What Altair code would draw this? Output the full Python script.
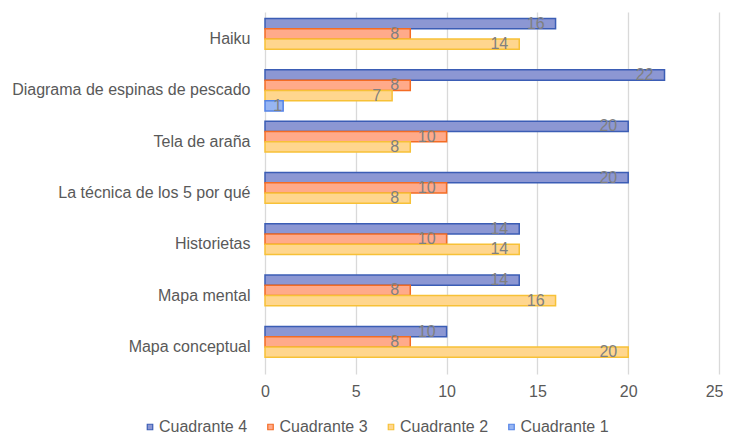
import altair as alt
import pandas as pd

categorias = ["Haiku", "Diagrama de espinas de pescado", "Tela de araña",
              "La técnica de los 5 por qué", "Historietas", "Mapa mental",
              "Mapa conceptual"]
series = ["Cuadrante 4", "Cuadrante 3", "Cuadrante 2", "Cuadrante 1"]
cuadrante_4 = [16, 22, 20, 20, 14, 14, 10]
cuadrante_3 = [8, 8, 10, 10, 10, 8, 8]
cuadrante_2 = [14, 7, 8, 8, 14, 16, 20]
cuadrante_1 = [0, 1, 0, 0, 0, 0, 0]
x_ticks = [0, 5, 10, 15, 20, 25]

fill_colors = ["#8C97D3", "#FFAA8A", "#FFD68E", "#97B5F2"]
stroke_colors = ["#3B5DB5", "#F46C24", "#F7C137", "#5383E6"]

rows = []
for s, vals in zip(series, [cuadrante_4, cuadrante_3, cuadrante_2, cuadrante_1]):
    for c, v in zip(categorias, vals):
        if v > 0:
            rows.append(dict(categoria=c, serie=s, valor=v))
df = pd.DataFrame(rows)

FONT = "Liberation Sans"

y = alt.Y("categoria:N", sort=categorias,
          scale=alt.Scale(domain=categorias, paddingInner=0.2, paddingOuter=0.128),
          axis=alt.Axis(title=None, ticks=False, domain=False, labelPadding=15,
                        labelFontSize=16, labelColor="#595959", labelFont=FONT,
                        labelLimit=400))
yoff = alt.YOffset("serie:N", sort=series,
                   scale=alt.Scale(domain=series, paddingInner=0, paddingOuter=0))
x = alt.X("valor:Q", scale=alt.Scale(domain=[0, 25], nice=False),
          axis=alt.Axis(values=x_ticks, title=None, ticks=False, domain=False,
                        grid=True, gridColor="#d9d9d9", gridWidth=1.3,
                        labelFontSize=16, labelColor="#595959", labelFont=FONT,
                        labelPadding=9,
                        labelAlign=alt.condition("datum.value == 25",
                                                 alt.value("right"),
                                                 alt.value("center")),
                        labelOffset=alt.condition("datum.value == 25",
                                                  alt.value(4),
                                                  alt.value(0))))

legend = alt.Legend(title=None, orient="none", legendX=-123, legendY=407,
                    direction="horizontal", symbolType="square", symbolSize=30,
                    labelFontSize=16, labelColor="#595959", labelFont=FONT,
                    columnPadding=14.5, labelOffset=1, padding=0,
                    symbolStrokeWidth=1.2)

bars = alt.Chart(df).mark_bar(strokeWidth=1.5).encode(
    x=x, y=y, yOffset=yoff,
    fill=alt.Fill("serie:N", scale=alt.Scale(domain=series, range=fill_colors),
                  legend=legend),
    stroke=alt.Stroke("serie:N", scale=alt.Scale(domain=series, range=stroke_colors),
                      legend=legend),
)

labels = alt.Chart(df).transform_filter("datum.valor >= 2").mark_text(
    align="right", baseline="middle", dx=-11,
    fontSize=16, color="#808080", font=FONT).encode(
    x=x, y=y, yOffset=yoff, text="valor:Q"
)

small_labels = alt.Chart(df).transform_filter("datum.valor < 2").mark_text(
    align="right", baseline="middle", dx=-1,
    fontSize=16, color="#808080", font=FONT).encode(
    x=x, y=y, yOffset=yoff, text="valor:Q"
)

chart = alt.layer(bars, labels, small_labels).properties(
    width=454, height=362,
    padding={"left": 257, "top": 4, "right": 4, "bottom": 60},
    autosize=alt.AutoSizeParams(type="none"),
).configure_view(stroke=None)

chart.save("out.html", embed_options={"renderer": "svg", "actions": False})
